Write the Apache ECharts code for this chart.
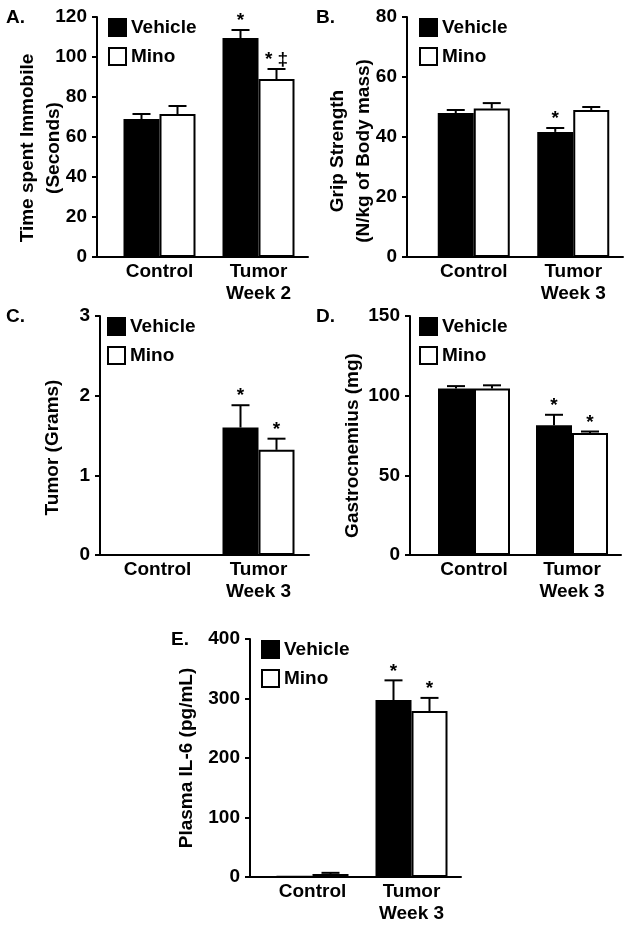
<!DOCTYPE html>
<html>
<head>
<meta charset="utf-8">
<script src="https://cdn.jsdelivr.net/npm/echarts@6/dist/echarts.min.js"></script>
<style>
  html, body { margin: 0; padding: 0; background: #fff; }
  #chart { width: 624px; height: 930px; }
</style>
</head>
<body>
<div id="chart"></div>
<script>
// 数据
const catsWeek2 = ['Control', 'Tumor\nWeek 2']
const catsWeek3 = ['Control', 'Tumor\nWeek 3']

// A. 不动时间
const vehA = [69, 109.5]
const vehErrA = [2.5, 4]
const minoA = [71.5, 89]
const minoErrA = [4, 5]
const vehMarkA = ['', '*']
const minoMarkA = ['', '* ‡']
const ticksA = [0, 20, 40, 60, 80, 100, 120]

// B. 握力
const vehB = [48, 41.7]
const vehErrB = [1, 1.3]
const minoB = [49.5, 49]
const minoErrB = [1.8, 1]
const vehMarkB = ['', '*']
const minoMarkB = ['', '']
const ticksB = [0, 20, 40, 60, 80]

// C. 肿瘤重量
const vehC = [0, 1.6]
const vehErrC = [0, 0.28]
const minoC = [0, 1.32]
const minoErrC = [0, 0.14]
const vehMarkC = ['', '*']
const minoMarkC = ['', '*']
const ticksC = [0, 1, 2, 3]

// D. 腓肠肌
const vehD = [104.5, 81.5]
const vehErrD = [1.5, 6.5]
const minoD = [104.5, 76.5]
const minoErrD = [2, 1]
const vehMarkD = ['', '*']
const minoMarkD = ['', '*']
const ticksD = [0, 50, 100, 150]

// E. IL-6
const vehE = [2, 297.5]
const vehErrE = [0, 33]
const minoE = [5, 279]
const minoErrE = [2, 22]
const vehMarkE = ['', '*']
const minoMarkE = ['', '*']
const ticksE = [0, 100, 200, 300, 400]

const FONT = '"Liberation Sans", Arial, sans-serif'
const FS = 19
const BAR_W = 36

const option = {
  backgroundColor: '#fff',
  animation: false,
  textStyle: { fontFamily: FONT },
  grid: [],
  xAxis: [],
  yAxis: [],
  legend: [],
  series: [],
  graphic: []
}

// 误差线 + 星号
function errRender (values, errs, marks, side) {
  return function (params, api) {
    const i = params.dataIndex
    const base = api.coord([i, values[i]])
    const top = api.coord([i, values[i] + errs[i]])
    const x = base[0] + side * BAR_W / 2
    const children = []
    if (errs[i] > 0) {
      children.push({ type: 'line', shape: { x1: x, y1: base[1], x2: x, y2: top[1] }, style: { stroke: '#000', lineWidth: 2 } })
      children.push({ type: 'line', shape: { x1: x - 9, y1: top[1], x2: x + 9, y2: top[1] }, style: { stroke: '#000', lineWidth: 2 } })
    }
    if (marks[i]) {
      children.push({
        type: 'text',
        x: x,
        y: top[1] - 9,
        style: { text: marks[i], font: 'bold ' + FS + 'px ' + FONT, fill: '#000', textAlign: 'center', textVerticalAlign: 'middle' }
      })
    }
    return { type: 'group', children: children }
  }
}

function addPanel (p, cats, veh, vehErr, mino, minoErr, vehMark, minoMark, ticks, yName) {
  const k = option.grid.length
  option.grid.push({ left: p.left, top: p.top, width: p.width, height: p.height })
  option.xAxis.push({
    type: 'category',
    gridIndex: k,
    data: cats,
    axisLine: { lineStyle: { color: '#000', width: 2 } },
    axisTick: { show: false },
    axisLabel: { color: '#000', fontSize: FS, fontWeight: 'bold', lineHeight: 22, margin: 4 }
  })
  option.yAxis.push({
    type: 'value',
    gridIndex: k,
    min: ticks[0],
    max: ticks[ticks.length - 1],
    interval: ticks[1] - ticks[0],
    offset: p.offset,
    splitLine: { show: false },
    axisLine: { show: true, lineStyle: { color: '#000', width: 2 } },
    axisTick: { show: true, length: 5, lineStyle: { color: '#000', width: 2 } },
    axisLabel: { color: '#000', fontSize: FS, fontWeight: 'bold', margin: 10 },
    name: yName,
    nameLocation: 'middle',
    nameRotate: 90,
    nameGap: p.nameGap,
    nameMoveOverlap: false,
    nameTextStyle: {
      color: '#000',
      fontSize: FS,
      fontWeight: 'bold',
      lineHeight: 26,
      padding: [0, p.namePad, 0, 0]
    }
  })
  option.series.push({
    name: 'Vehicle',
    type: 'bar',
    xAxisIndex: k,
    yAxisIndex: k,
    data: veh,
    barWidth: BAR_W,
    barGap: '0%',
    itemStyle: { color: '#000', borderColor: '#000', borderWidth: 0 }
  })
  option.series.push({
    name: 'Mino',
    type: 'bar',
    xAxisIndex: k,
    yAxisIndex: k,
    data: mino,
    barWidth: BAR_W,
    barGap: '0%',
    itemStyle: { color: '#fff', borderColor: '#000', borderWidth: 2 }
  })
  option.series.push({
    type: 'custom',
    xAxisIndex: k,
    yAxisIndex: k,
    data: veh.map((v, i) => [i, v]),
    renderItem: errRender(veh, vehErr, vehMark, -1),
    z: 5
  })
  option.series.push({
    type: 'custom',
    xAxisIndex: k,
    yAxisIndex: k,
    data: mino.map((v, i) => [i, v]),
    renderItem: errRender(mino, minoErr, minoMark, 1),
    z: 5
  })
  option.legend.push({
    data: ['Vehicle', 'Mino'],
    orient: 'vertical',
    left: p.legendLeft,
    top: p.top + 1,
    padding: 0,
    itemWidth: 17,
    itemHeight: 17,
    itemGap: 10,
    icon: 'rect',
    selectedMode: false,
    itemStyle: { borderColor: '#000', borderWidth: 2 },
    textStyle: { color: '#000', fontSize: FS, fontWeight: 'bold', fontFamily: FONT }
  })
  // x 轴线延伸到 y 轴
  const axisX = p.left - p.offset
  const bottom = p.top + p.height
  option.graphic.push({
    type: 'line',
    shape: { x1: axisX, y1: bottom, x2: p.left, y2: bottom },
    style: { stroke: '#000', lineWidth: 2 }
  })
  option.graphic.push({
    type: 'text',
    left: p.letterX,
    top: p.top - 9,
    style: { text: p.letter, font: 'bold ' + FS + 'px ' + FONT, fill: '#000' }
  })
}

addPanel({ letter: 'A.', letterX: 6, left: 110, top: 17, width: 198, height: 240, offset: 13, nameGap: 30, namePad: 22, legendLeft: 108 },
  catsWeek2, vehA, vehErrA, minoA, minoErrA, vehMarkA, minoMarkA, ticksA, 'Time spent Immobile\n(Seconds)')
addPanel({ letter: 'B.', letterX: 316, left: 424, top: 17, width: 199, height: 240, offset: 17, nameGap: 30, namePad: 28, legendLeft: 419 },
  catsWeek3, vehB, vehErrB, minoB, minoErrB, vehMarkB, minoMarkB, ticksB, 'Grip Strength\n(N/kg of Body mass)')
addPanel({ letter: 'C.', letterX: 6, left: 107, top: 316, width: 202, height: 239, offset: 7, nameGap: 34, namePad: 24, legendLeft: 107 },
  catsWeek3, vehC, vehErrC, minoC, minoErrC, vehMarkC, minoMarkC, ticksC, 'Tumor (Grams)')
addPanel({ letter: 'D.', letterX: 316, left: 425, top: 316, width: 196, height: 239, offset: 15, nameGap: 44, namePad: 20, legendLeft: 419 },
  catsWeek3, vehD, vehErrD, minoD, minoErrD, vehMarkD, minoMarkD, ticksD, 'Gastrocnemius (mg)')
addPanel({ letter: 'E.', letterX: 171, left: 263, top: 639, width: 198, height: 238, offset: 13, nameGap: 50, namePad: 0, legendLeft: 261 },
  catsWeek3, vehE, vehErrE, minoE, minoErrE, vehMarkE, minoMarkE, ticksE, 'Plasma IL-6 (pg/mL)')

const chart = echarts.init(document.getElementById('chart'))
chart.setOption(option)
</script>
</body>
</html>
